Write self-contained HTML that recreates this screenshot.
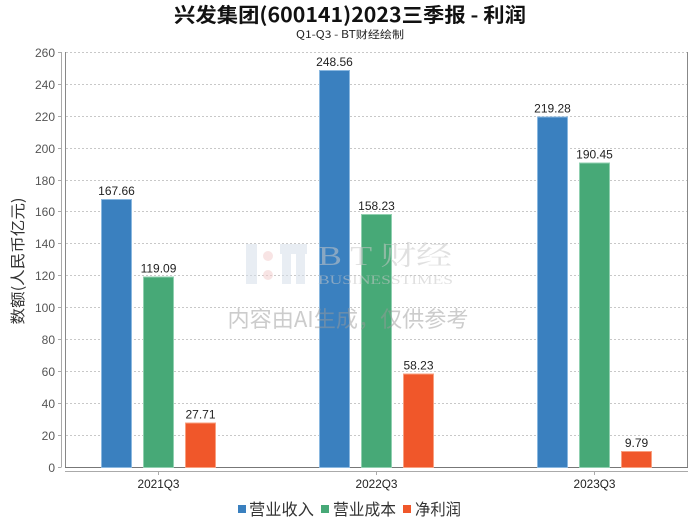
<!DOCTYPE html>
<html><head><meta charset="utf-8"><style>
html,body{margin:0;padding:0;background:#fff;}
svg{display:block;}
</style></head><body>
<svg width="700" height="524" viewBox="0 0 700 524" xmlns="http://www.w3.org/2000/svg" font-family="'Liberation Sans','Noto Sans CJK SC',sans-serif">
<rect width="700" height="524" fill="#fff"/>
<!-- title -->
<text x="350" y="22" text-anchor="middle" font-family="'Noto Sans CJK SC',sans-serif" font-size="20" font-weight="bold" fill="#111" textLength="352" lengthAdjust="spacingAndGlyphs">兴发集团(600141)2023三季报 - 利润</text>
<text x="350" y="38" text-anchor="middle" font-family="'Noto Sans CJK SC',sans-serif" font-size="10.5" fill="#222" textLength="108" lengthAdjust="spacingAndGlyphs">Q1-Q3 - BT财经绘制</text>
<!-- gridlines -->
<g stroke="#c8c8c8" stroke-width="1" stroke-dasharray="2,2">
<line x1="66" x2="687" y1="52.5" y2="52.5"/>
<line x1="66" x2="687" y1="84.5" y2="84.5"/>
<line x1="66" x2="687" y1="116.5" y2="116.5"/>
<line x1="66" x2="687" y1="148.5" y2="148.5"/>
<line x1="66" x2="687" y1="180.5" y2="180.5"/>
<line x1="66" x2="687" y1="211.5" y2="211.5"/>
<line x1="66" x2="687" y1="243.5" y2="243.5"/>
<line x1="66" x2="687" y1="275.5" y2="275.5"/>
<line x1="66" x2="687" y1="307.5" y2="307.5"/>
<line x1="66" x2="687" y1="339.5" y2="339.5"/>
<line x1="66" x2="687" y1="371.5" y2="371.5"/>
<line x1="66" x2="687" y1="403.5" y2="403.5"/>
<line x1="66" x2="687" y1="435.5" y2="435.5"/>
</g>
<!-- plot border -->
<line x1="65.5" x2="65.5" y1="52" y2="467.5" stroke="#888"/>
<line x1="687.5" x2="687.5" y1="52" y2="467.5" stroke="#888"/>
<line x1="65" x2="688" y1="467.5" y2="467.5" stroke="#777"/>
<!-- y axis -->
<line x1="61.5" x2="61.5" y1="52" y2="467.5" stroke="#aaa"/>
<g stroke="#aaa">
<line x1="58" x2="61" y1="52.5" y2="52.5"/><line x1="58" x2="61" y1="84.5" y2="84.5"/><line x1="58" x2="61" y1="116.5" y2="116.5"/><line x1="58" x2="61" y1="148.5" y2="148.5"/><line x1="58" x2="61" y1="180.5" y2="180.5"/><line x1="58" x2="61" y1="211.5" y2="211.5"/><line x1="58" x2="61" y1="243.5" y2="243.5"/><line x1="58" x2="61" y1="275.5" y2="275.5"/><line x1="58" x2="61" y1="307.5" y2="307.5"/><line x1="58" x2="61" y1="339.5" y2="339.5"/><line x1="58" x2="61" y1="371.5" y2="371.5"/><line x1="58" x2="61" y1="403.5" y2="403.5"/><line x1="58" x2="61" y1="435.5" y2="435.5"/><line x1="58" x2="61" y1="467.5" y2="467.5"/>
</g>
<g font-size="12" fill="#555" text-anchor="end">
<text x="55" y="57">260</text><text x="55" y="89">240</text><text x="55" y="121">220</text><text x="55" y="153">200</text><text x="55" y="185">180</text><text x="55" y="216">160</text><text x="55" y="248">140</text><text x="55" y="280">120</text><text x="55" y="312">100</text><text x="55" y="344">80</text><text x="55" y="376">60</text><text x="55" y="408">40</text><text x="55" y="440">20</text><text x="55" y="472">0</text>
</g>
<text transform="translate(23,261) rotate(-90)" text-anchor="middle" font-family="'Noto Sans CJK SC',sans-serif" font-size="15" fill="#333" textLength="127" lengthAdjust="spacingAndGlyphs">数额(人民币亿元)</text>
<!-- x axis -->
<line x1="65" x2="688" y1="471.5" y2="471.5" stroke="#aaa"/>
<g stroke="#aaa"><line x1="158.5" x2="158.5" y1="471" y2="475"/><line x1="376.5" x2="376.5" y1="471" y2="475"/><line x1="594.5" x2="594.5" y1="471" y2="475"/></g>
<g font-size="12" fill="#222" text-anchor="middle">
<text x="158.5" y="488" textLength="42" lengthAdjust="spacingAndGlyphs">2021Q3</text>
<text x="376.5" y="488" textLength="42" lengthAdjust="spacingAndGlyphs">2022Q3</text>
<text x="594.5" y="488" textLength="42" lengthAdjust="spacingAndGlyphs">2023Q3</text>
</g>
<!-- bars -->
<g stroke-width="1">
<rect x="101.5" y="199.5" width="30" height="268" fill="#3a80bf" stroke="#8ab8e0"/>
<rect x="143.5" y="277" width="30" height="190.5" fill="#47a977" stroke="#90d0b0"/>
<rect x="185.5" y="423" width="30" height="44.5" fill="#f0572a" stroke="#f8a080"/>
<rect x="319.5" y="70.5" width="30" height="397" fill="#3a80bf" stroke="#8ab8e0"/>
<rect x="361.5" y="214.5" width="30" height="253" fill="#47a977" stroke="#90d0b0"/>
<rect x="403.5" y="374" width="30" height="93.5" fill="#f0572a" stroke="#f8a080"/>
<rect x="537.5" y="117" width="30" height="350.5" fill="#3a80bf" stroke="#8ab8e0"/>
<rect x="579.5" y="163" width="30" height="304.5" fill="#47a977" stroke="#90d0b0"/>
<rect x="621.5" y="451.5" width="30" height="16" fill="#f0572a" stroke="#f8a080"/>
</g>
<!-- value labels -->
<g font-size="12" fill="#222" text-anchor="middle">
<text x="116.5" y="195">167.66</text>
<text x="158.5" y="272.5">119.09</text>
<text x="200.5" y="418.5">27.71</text>
<text x="334.5" y="66">248.56</text>
<text x="376.5" y="210">158.23</text>
<text x="418.5" y="369.5">58.23</text>
<text x="552.5" y="112.5">219.28</text>
<text x="594.5" y="158.5">190.45</text>
<text x="636.5" y="447">9.79</text>
</g>
<!-- watermark -->
<g opacity="0.55">
<rect x="246" y="244" width="11" height="40" fill="#d6dfea"/>
<circle cx="268" cy="256" r="5" fill="#f4cfcf"/>
<circle cx="268" cy="275" r="5" fill="#f4cfcf"/>
<rect x="280" y="244" width="27" height="10" fill="#d6dfea"/>
<rect x="282" y="254" width="9" height="30" fill="#d6dfea"/>
<rect x="296" y="254" width="9" height="30" fill="#d6dfea"/>
<text x="318" y="265" font-family="'Liberation Serif','Noto Serif CJK SC',serif" font-size="27" fill="#c8c8c8" textLength="134" lengthAdjust="spacingAndGlyphs">B T 财经</text>
<text x="318" y="284" font-family="'Liberation Serif',serif" font-size="13" fill="#c8c8c8" textLength="135" lengthAdjust="spacingAndGlyphs">BUSINESSTIMES</text>
</g>
<text x="348" y="327" text-anchor="middle" font-family="'Noto Sans CJK SC',sans-serif" font-size="22" fill="#999" fill-opacity="0.5" textLength="241" lengthAdjust="spacingAndGlyphs">内容由AI生成，仅供参考</text>
<!-- legend -->
<rect x="238" y="505" width="8" height="8" fill="#3a80bf"/>
<text x="249" y="515" font-family="'Noto Sans CJK SC',sans-serif" font-size="16" fill="#333" textLength="65" lengthAdjust="spacingAndGlyphs">营业收入</text>
<rect x="321" y="505" width="8" height="8" fill="#47a977"/>
<text x="333" y="515" font-family="'Noto Sans CJK SC',sans-serif" font-size="16" fill="#333" textLength="63" lengthAdjust="spacingAndGlyphs">营业成本</text>
<rect x="403" y="505" width="8" height="8" fill="#f0572a"/>
<text x="415" y="515" font-family="'Noto Sans CJK SC',sans-serif" font-size="16" fill="#333" textLength="46" lengthAdjust="spacingAndGlyphs">净利润</text>
</svg>
</body></html>
